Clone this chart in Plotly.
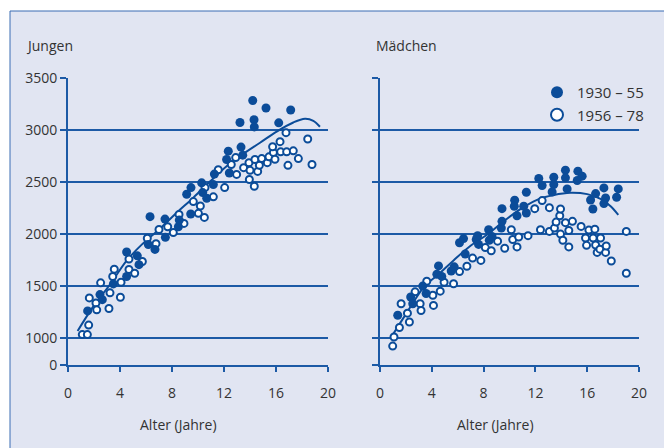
import plotly.graph_objects as go

# ---------------- data ----------------
boys_old_x = [1.51, 2.46, 2.64, 3.49, 4.51, 4.51, 5.33, 5.46, 6.31, 6.18, 6.69, 7.46, 7.49, 8.49, 8.56,
              9.13, 9.46, 9.44, 10.28, 10.36, 10.67, 11.18, 11.26, 12.33, 12.2, 12.41, 13.31, 13.44,
              13.23, 14.21, 14.31, 14.33, 15.23, 16.21, 17.13]
boys_old_y = [1261, 1418, 1369, 1521, 1828, 1592, 1791, 1706, 2168, 1899, 1853, 2145, 1969, 2071, 2135,
              2384, 2448, 2194, 2494, 2400, 2345, 2477, 2578, 2799, 2718, 2588, 2838, 2760,
              3075, 3286, 3101, 3032, 3214, 3071, 3195]

boys_new_x = [1.10, 1.49, 1.59, 1.64, 2.15, 2.21, 2.51, 3.15, 3.23, 3.44, 3.56, 4.08, 4.03, 4.69, 4.69,
              5.13, 5.72, 6.10, 6.77, 7.0, 7.67, 8.1, 8.54, 8.92, 9.64, 10.18, 10.03, 10.49, 10.54,
              11.18, 11.56, 12.05, 12.56, 12.9, 12.97, 13.51, 13.92, 13.95, 14.33, 14.0, 14.38, 14.59,
              14.72, 14.9, 15.33, 15.46, 15.8, 15.74, 16.31, 15.92, 16.36, 16.77, 16.82, 16.92, 17.33,
              17.72, 18.44, 18.77]
boys_new_y = [1033, 1033, 1124, 1386, 1337, 1271, 1531, 1284, 1435, 1592, 1663, 1537, 1392, 1660, 1761,
              1623, 1736, 1960, 1908, 2045, 2071, 2016, 2190, 2103, 2313, 2271, 2200, 2161, 2448,
              2359, 2620, 2448, 2670, 2737, 2575, 2640, 2688, 2526, 2461, 2614, 2718, 2604,
              2662, 2727, 2688, 2744, 2786, 2841, 2890, 2721, 2792, 2977, 2792, 2662, 2802,
              2727, 2916, 2670]

girls_old_x = [1.37, 2.37, 2.53, 3.3, 3.56, 4.52, 4.39, 4.77, 5.5, 5.73, 6.14, 6.45, 6.58, 7.43, 7.54,
               7.61, 8.39, 8.44, 8.65, 9.37, 9.42, 9.42, 10.4, 10.37, 10.58, 11.1, 11.3, 11.3, 12.26,
               12.52, 13.42, 13.42, 13.29, 14.32, 14.32, 14.45, 15.28, 15.61, 15.23, 16.26, 16.44,
               16.65, 17.29, 17.42, 17.29, 18.27, 18.4]
girls_old_y = [1219, 1395, 1330, 1500, 1428, 1694, 1614, 1593, 1645, 1685, 1917, 1957, 1809, 1948, 1985,
               1901, 2042, 1941, 1978, 2058, 2123, 2245, 2326, 2268, 2177, 2268, 2203, 2403, 2535,
               2468, 2548, 2477, 2406, 2616, 2542, 2435, 2606, 2558, 2516, 2329, 2242,
               2390, 2445, 2348, 2294, 2355, 2435]

girls_new_x = [0.98, 1.08, 1.5, 1.63, 2.12, 2.27, 2.71, 3.1, 3.17, 3.61, 4.08, 4.13, 4.65, 4.95, 5.68,
               6.14, 6.71, 7.15, 7.79, 8.13, 8.59, 9.08, 9.63, 10.14, 10.25, 10.58, 10.71, 11.43,
               11.95, 12.39, 12.52, 13.08, 13.08, 13.47, 13.6, 13.88, 13.94, 13.94, 14.12, 14.32,
               14.58, 14.58, 14.86, 15.53, 15.87, 15.95, 16.13, 16.46, 16.59, 16.65, 16.77, 17.03,
               16.98, 17.42, 17.47, 17.86, 19.02, 19.02]
girls_new_y = [922, 1010, 1101, 1330, 1239, 1154, 1444, 1330, 1265, 1546, 1412, 1314, 1451, 1537, 1522,
               1639, 1691, 1769, 1747, 1870, 1840, 1932, 1864, 2042, 1948, 1877, 1972, 1985,
               2245, 2042, 2323, 2026, 2255, 2058, 2116, 2177, 2242, 2000, 1941, 2110,
               2035, 1877, 2123, 2074, 1963, 1892, 2039, 1963, 2048, 1895, 1824, 1963,
               1855, 1824, 1886, 1741, 2026, 1623]

# fitted curves
boys_fit_x = [0.74, 1.95, 3.23, 4.51, 5.67, 7.08, 8.36, 9.64, 10.92, 12.2, 13.49, 14.77, 16.05, 17.33,
              18.23, 18.87, 19.38]
boys_fit_y = [1067, 1304, 1515, 1745, 1899, 2055, 2206, 2351, 2506, 2653, 2773, 2880, 2987, 3075,
              3110, 3091, 3034]
girls_fit_x = [0.9, 2.0, 3.45, 4.5, 5.68, 6.97, 8.26, 9.55, 10.84, 12.13, 13.42, 14.71, 16.0, 17.03,
               17.81, 18.4]
girls_fit_y = [1015, 1230, 1500, 1610, 1747, 1886, 1994, 2123, 2240, 2330, 2376, 2398, 2385, 2340,
               2268, 2185]

legend_names = ["1930 – 55", "1956 – 78"]
panel_titles = ["Jungen", "Mädchen"]
x_title = "Alter (Jahre)"
x_ticks = [0, 4, 8, 12, 16, 20]
y_tickvals = [740, 1000, 1500, 2000, 2500, 3000, 3500]
y_ticktext = ["0", "1000", "1500", "2000", "2500", "3000", "3500"]

# ---------------- styling ----------------
W, H = 664, 448
BLUE = "#0b4c99"
AX = "#1c5aa6"
BG = "#e1e5f2"
TXT = "#333333"
FONT = "Open Sans"

fig = go.Figure()

panels = [
    ("x", "y", boys_fit_x, boys_fit_y, boys_new_x, boys_new_y, boys_old_x, boys_old_y, True),
    ("x2", "y2", girls_fit_x, girls_fit_y, girls_new_x, girls_new_y, girls_old_x, girls_old_y, False),
]
for xa, ya, fx, fy, nx, ny, ox, oy, leg in panels:
    fig.add_trace(go.Scatter(x=fx, y=fy, mode="lines", line=dict(color=BLUE, width=2, shape="spline"),
                             xaxis=xa, yaxis=ya, showlegend=False, hoverinfo="skip"))
    fig.add_trace(go.Scatter(x=nx, y=ny, mode="markers", name=legend_names[1], legendrank=2,
                             marker=dict(size=7, color="white", line=dict(color=BLUE, width=2)),
                             xaxis=xa, yaxis=ya, showlegend=not leg))
    fig.add_trace(go.Scatter(x=ox, y=oy, mode="markers", name=legend_names[0], legendrank=1,
                             marker=dict(size=9, color=BLUE, line=dict(width=0)),
                             xaxis=xa, yaxis=ya, showlegend=not leg))

xcommon = dict(range=[0, 20], tickvals=x_ticks, ticks="outside", ticklen=5, tickwidth=2, tickcolor=AX,
               showline=True, linecolor=AX, linewidth=2, showgrid=False, zeroline=False,
               tickfont=dict(family=FONT, size=14, color=TXT), ticklabelstandoff=9, automargin=False,
               fixedrange=True)
ycommon = dict(range=[740, 3503], tickvals=y_tickvals, ticktext=y_ticktext, ticks="outside", ticklen=6,
               tickwidth=2, tickcolor=AX, showline=True, linecolor=AX, linewidth=2, showgrid=True,
               gridcolor=AX, gridwidth=2, zeroline=False,
               tickfont=dict(family=FONT, size=14, color=TXT), automargin=False, fixedrange=True)

yd = [(H - 365) / H, (H - 78) / H]
fig.update_layout(
    width=W, height=H, template="none",
    margin=dict(l=0, r=0, t=0, b=0, pad=0),
    paper_bgcolor="white", plot_bgcolor="rgba(0,0,0,0)",
    xaxis=dict(domain=[68 / W, 328 / W], anchor="y", **xcommon),
    xaxis2=dict(domain=[380 / W, 639 / W], anchor="y2", **xcommon),
    yaxis=dict(domain=yd, anchor="x", **ycommon),
    yaxis2=dict(domain=yd, anchor="x2", showticklabels=False,
                **{k: v for k, v in ycommon.items() if k not in ("ticktext",)}),
    legend=dict(x=537 / W, y=1 - 76 / H, xanchor="left", yanchor="top", bgcolor="rgba(0,0,0,0)",
                font=dict(family=FONT, size=15, color=TXT), itemsizing="constant", tracegroupgap=4),
    showlegend=True,
    shapes=[dict(type="rect", xref="paper", yref="paper", x0=10 / W, x1=1.05, y0=-0.05, y1=1 - 11 / H,
                 fillcolor=BG, line=dict(color="#3a6db3", width=1), layer="below")],
    annotations=[
        dict(text=panel_titles[0], x=24 / W, y=1 - 46 / H, xref="paper", yref="paper", xanchor="left",
             yanchor="middle", showarrow=False, font=dict(family=FONT, size=14, color=TXT)),
        dict(text=panel_titles[1], x=374 / W, y=1 - 46 / H, xref="paper", yref="paper", xanchor="left",
             yanchor="middle", showarrow=False, font=dict(family=FONT, size=14, color=TXT)),
        dict(text=x_title, x=178 / W, y=1 - 424 / H, xref="paper", yref="paper", xanchor="center",
             yanchor="middle", showarrow=False, font=dict(family=FONT, size=14, color=TXT)),
        dict(text=x_title, x=495 / W, y=1 - 424 / H, xref="paper", yref="paper", xanchor="center",
             yanchor="middle", showarrow=False, font=dict(family=FONT, size=14, color=TXT)),
    ],
)

fig.write_html("out.html", config={"displayModeBar": False},
               post_script="document.body.style.margin='0px';")
